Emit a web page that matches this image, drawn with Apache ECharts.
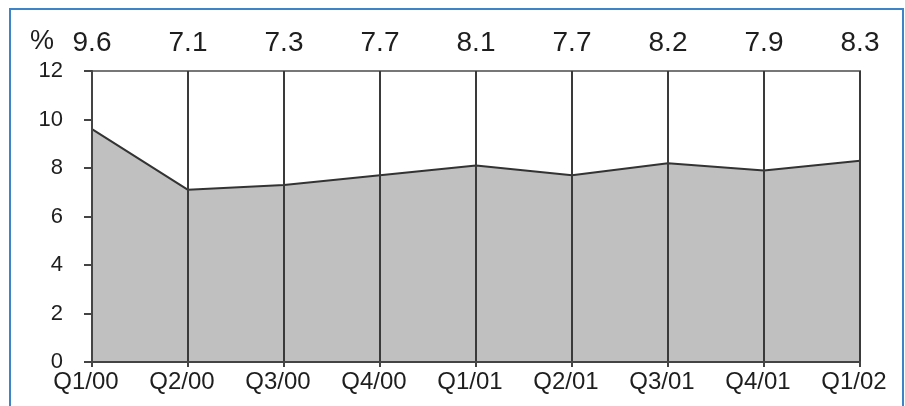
<!DOCTYPE html>
<html>
<head>
<meta charset="utf-8">
<script src="https://cdn.jsdelivr.net/npm/echarts@6/dist/echarts.min.js"></script>
<style>
  html, body { margin: 0; padding: 0; background: #fff; }
  #chart { width: 905px; height: 406px; }
</style>
</head>
<body>
<div id="chart"></div>
<script>
// Quarterly rate, per cent
const quarters = ['Q1/00', 'Q2/00', 'Q3/00', 'Q4/00', 'Q1/01', 'Q2/01', 'Q3/01', 'Q4/01', 'Q1/02'];
const rates = [9.6, 7.1, 7.3, 7.7, 8.1, 7.7, 8.2, 7.9, 8.3];
const yTicks = [0, 2, 4, 6, 8, 10, 12];

const textColor = '#1e1e1e';
const font = 'Liberation Sans, Arial, sans-serif';

const chart = echarts.init(document.getElementById('chart'), null, { renderer: 'canvas' });

chart.setOption({
  animation: false,
  backgroundColor: '#fff',
  title: {
    text: '%',
    left: 25,
    top: 23,
    textStyle: { fontFamily: font, fontSize: 27, fontWeight: 'normal', color: textColor }
  },
  graphic: [{
    type: 'rect',
    shape: { x: 10, y: 9, width: 893, height: 420 },
    style: { fill: null, stroke: '#3d85c6', lineWidth: 2 },
    silent: true
  }],
  grid: {
    left: 92, right: 45, top: 71, bottom: 44,
    show: true,
    borderColor: '#777',
    borderWidth: 2,
    backgroundColor: 'transparent'
  },
  xAxis: [{
    type: 'category',
    position: 'bottom',
    data: quarters,
    boundaryGap: false,
    z: 5,
    axisLine: { show: true, lineStyle: { color: '#444', width: 2 } },
    axisTick: { show: true, length: 5, lineStyle: { color: '#444', width: 2 } },
    splitLine: { show: true, lineStyle: { color: '#3a3a3a', width: 2 } },
    axisLabel: {
      fontFamily: font, fontSize: 24, color: textColor, margin: 8, interval: 0,
      padding: [0, 12, 0, 0]
    }
  }, {
    type: 'category',
    position: 'top',
    data: rates.map(v => v.toFixed(1)),
    boundaryGap: false,
    axisLine: { show: true, lineStyle: { color: '#777', width: 2 } },
    axisTick: { show: false },
    splitLine: { show: false },
    axisLabel: { fontFamily: font, fontSize: 28, color: textColor, margin: 14, interval: 0 }
  }],
  yAxis: {
    type: 'value',
    min: yTicks[0],
    max: yTicks[yTicks.length - 1],
    interval: 2,
    z: 5,
    axisLine: { show: true, lineStyle: { color: '#444', width: 2 } },
    axisTick: { show: true, length: 8, lineStyle: { color: '#444', width: 2 } },
    splitLine: { show: false },
    axisLabel: { fontFamily: font, fontSize: 22, color: textColor, margin: 29, padding: [4, 0, 0, 0] }
  },
  series: [{
    type: 'line',
    data: rates,
    symbol: 'none',
    lineStyle: { color: '#333', width: 2 },
    areaStyle: { color: '#c0c0c0', opacity: 1 },
    z: 2
  }]
});
</script>
</body>
</html>
